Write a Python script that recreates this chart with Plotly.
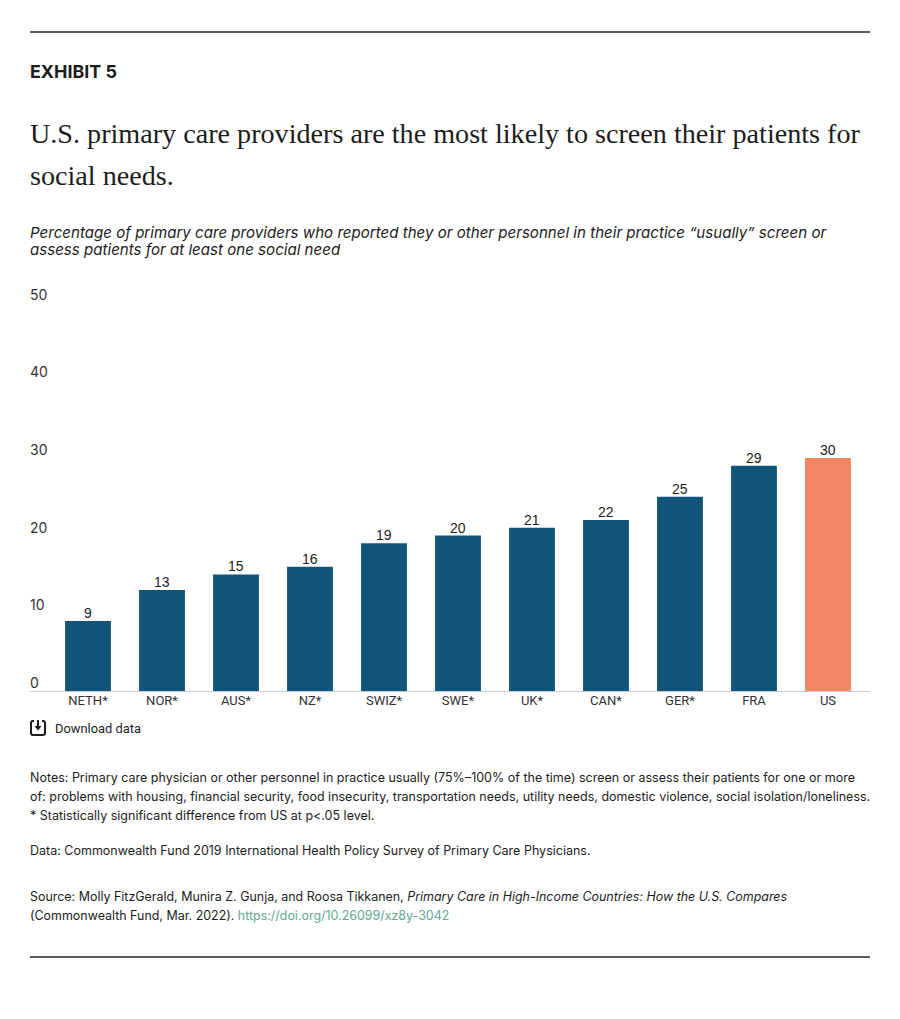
import plotly.graph_objects as go

WIDTH = 900
HEIGHT = 1019

countries = ["NETH*", "NOR*", "AUS*", "NZ*", "SWIZ*", "SWE*", "UK*", "CAN*", "GER*", "FRA", "US"]
shares = [9, 13, 15, 16, 19, 20, 21, 22, 25, 29, 30]
bar_colors = ["#10567b"] * 10 + ["#f48763"]
y_ticks = [0, 10, 20, 30, 40, 50]

SANS = "Inter, Arial, sans-serif"
SERIF = "Liberation Serif, serif"
INK = "#1c1c1c"
LINK = "#62a893"


def px(x):
    return x / WIDTH


def py(y):
    return 1 - y / HEIGHT


def label(x, y, text, size, family=SANS, color=INK):
    return dict(
        x=px(x), y=py(y), xref="paper", yref="paper", text=text, showarrow=False,
        xanchor="left", yanchor="middle", align="left", borderpad=0, xshift=-1,
        font=dict(size=size, family=family, color=color),
    )


fig = go.Figure(
    go.Bar(
        x=countries,
        y=shares,
        marker=dict(color=bar_colors, line_width=0),
        width=0.62,
        hoverinfo="x+y",
    )
)

notes = [
    (777, 12.5, "Notes: Primary care physician or other personnel in practice usually (75%–100% of the time) screen or assess their patients for one or more"),
    (796, 12.5, "of: problems with housing, financial security, food insecurity, transportation needs, utility needs, domestic violence, social isolation/loneliness."),
    (815, 12.5, "* Statistically significant difference from US at p&lt;.05 level."),
    (850, 12.5, "Data: Commonwealth Fund 2019 International Health Policy Survey of Primary Care Physicians."),
    (896, 12.45, "Source: Molly FitzGerald, Munira Z. Gunja, and Roosa Tikkanen, <i>Primary Care in High-Income Countries: How the U.S. Compares</i>"),
    (915, 12.45, f"(Commonwealth Fund, Mar. 2022). <span style='color:{LINK}'>https://doi.org/10.26099/xz8y-3042</span>"),
]

annotations = [
    label(30, 72, "<b>EXHIBIT 5</b>", 17.9),
    label(30, 133, "U.S. primary care providers are the most likely to screen their patients for", 28.15, SERIF),
    label(30, 175, "social needs.", 28.15, SERIF),
    label(30, 233, "<i>Percentage of primary care providers who reported they or other personnel in their practice “usually” screen or</i>", 15.1),
    label(30, 249, "<i>assess patients for at least one social need</i>", 15.1),
    label(55, 728, "Download data", 12.9, "Roboto, sans-serif"),
]
annotations += [label(30, y, text, size) for y, size, text in notes]

# value labels sit closer to the bars than textposition="outside" allows
annotations += [
    dict(x=c, y=v, xref="x", yref="y", text=str(v), showarrow=False, yanchor="middle", yshift=8,
         borderpad=0, font=dict(size=14, family="Liberation Sans, Arial", color=INK))
    for c, v in zip(countries, shares)
]
# y tick labels are left aligned and float above their position
annotations += [
    dict(x=px(30), y=t, xref="paper", yref="y", text=str(t), showarrow=False, xanchor="left",
         yanchor="middle", xshift=-1, yshift=8.5, borderpad=0,
         font=dict(size=14, family=SANS, color="#333333"))
    for t in y_ticks
]

rule = dict(color="#5a5a5a", width=2)
icon = dict(color="#1c1c1c", width=2)
shapes = [
    dict(type="line", xref="paper", yref="paper", x0=px(30), x1=px(870), y0=py(32), y1=py(32), line=rule),
    dict(type="line", xref="paper", yref="paper", x0=px(30), x1=px(870), y0=py(957), y1=py(957), line=rule),
    # download icon
    dict(type="path", xref="paper", yref="paper", line=icon,
         path=(f"M {px(34)} {py(721)} L {px(33)} {py(721)} Q {px(31)} {py(721)} {px(31)} {py(723)} "
               f"L {px(31)} {py(733)} Q {px(31)} {py(735)} {px(33)} {py(735)} "
               f"L {px(43)} {py(735)} Q {px(45)} {py(735)} {px(45)} {py(733)} "
               f"L {px(45)} {py(723)} Q {px(45)} {py(721)} {px(43)} {py(721)} L {px(42)} {py(721)}")),
    dict(type="line", xref="paper", yref="paper", x0=px(38), x1=px(38), y0=py(720), y1=py(727), line=icon),
    dict(type="path", xref="paper", yref="paper", line=dict(width=0), fillcolor="#1c1c1c",
         path=f"M {px(34.5)} {py(726)} L {px(41.5)} {py(726)} L {px(38)} {py(730.5)} Z"),
]

fig.update_layout(
    width=WIDTH,
    height=HEIGHT,
    margin=dict(l=0, r=0, t=0, b=0),
    paper_bgcolor="white",
    plot_bgcolor="white",
    showlegend=False,
    annotations=annotations,
    shapes=shapes,
)
fig.update_xaxes(
    domain=[px(30), px(870)],
    range=[-0.784, 10.568],
    showgrid=False,
    showline=True,
    linecolor="#cccccc",
    linewidth=1,
    ticks="",
    ticklabelstandoff=-3,
    tickfont=dict(size=13, family="Roboto, Arial", color="#333333"),
)
fig.update_yaxes(
    domain=[py(691), py(302.5)],
    range=[0, 50],
    showticklabels=False,
    showgrid=False,
    zeroline=False,
    ticks="",
)

fig.write_html(
    "out.html",
    config={"displayModeBar": False},
    post_script="document.body.style.margin = '0';",
)
